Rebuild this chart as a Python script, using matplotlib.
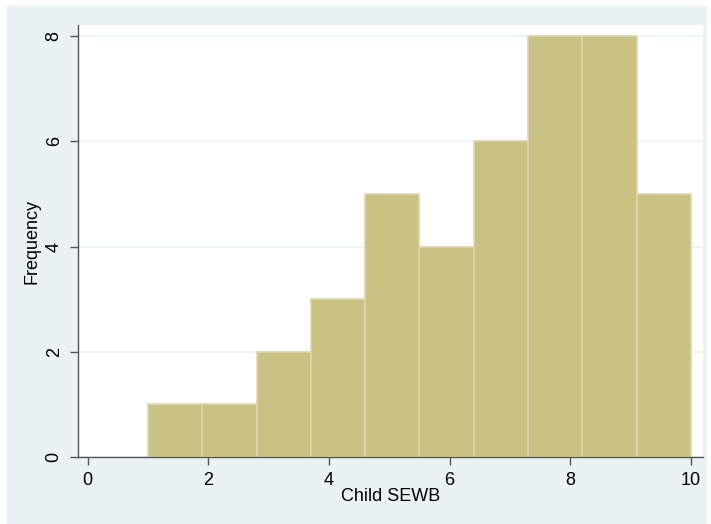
import matplotlib
matplotlib.use('Agg')
import matplotlib.pyplot as plt
from matplotlib.patches import Rectangle
import numpy as np

plt.rcParams['font.family'] = ['Liberation Sans', 'DejaVu Sans']

# histogram of Child SEWB, 10 bins from 1 to 10
bin_edges = [1.0, 1.9, 2.8, 3.7, 4.6, 5.5, 6.4, 7.3, 8.2, 9.1, 10.0]
counts = [1, 1, 2, 3, 5, 4, 6, 8, 8, 5]
xticks = [0, 2, 4, 6, 8, 10]
yticks = [0, 2, 4, 6, 8]

fig = plt.figure(figsize=(7.11, 5.24), dpi=100, facecolor='white')
# stata-like outer background
fig.patches.append(Rectangle((7/711, 0), 700/711, 518/524, transform=fig.transFigure,
                             facecolor='#eaf2f3', edgecolor='none', zorder=-10))

ax = fig.add_axes([78/711, 67/524, 625/711, 432/524])
ax.set_facecolor('white')

widths = np.diff(bin_edges)
ax.bar(bin_edges[:-1], counts, width=widths, align='edge',
       color='#c9c283', edgecolor='#ddd8a8', linewidth=1.2, zorder=2)

ax.set_xlim(-0.16, 10.2)
ax.set_ylim(0, 8.21)
ax.set_xticks(xticks)
ax.set_yticks(yticks)
ax.set_yticklabels([str(v) for v in yticks], rotation=90, va='center')
ax.grid(axis='y', color='#eaf2f3', linewidth=1.2, zorder=1)
ax.tick_params(axis='both', direction='out', length=6, width=1, color='#555555',
               labelsize=13, pad=5)

for s in ['top', 'right']:
    ax.spines[s].set_visible(False)
for s in ['left', 'bottom']:
    ax.spines[s].set_color('#555555')
    ax.spines[s].set_linewidth(1)

ax.set_xlabel('Child SEWB', fontsize=13, labelpad=-1)
ax.set_ylabel('Frequency', fontsize=13, labelpad=4)

fig.savefig('out.png', dpi=100, facecolor='white')
